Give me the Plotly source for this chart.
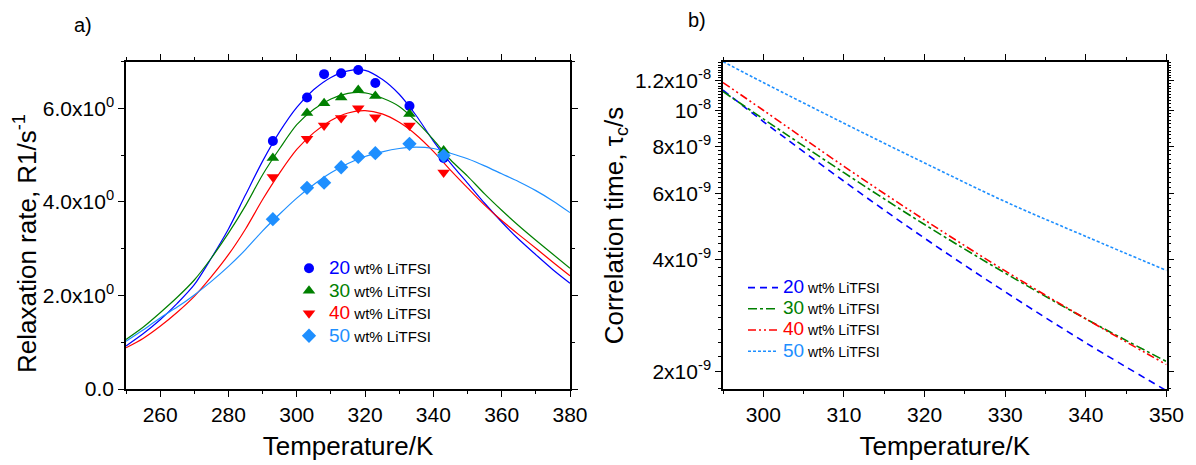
import plotly.graph_objects as go

# ---------------- data: panel a) ----------------
labels = ["20", "30", "40", "50"]
colors = ["#0000ff", "#008000", "#ff0000", "#1e8fff"]
symbols = ["circle", "triangle-up", "triangle-down", "diamond"]

T_meas = [293, 303, 308, 313, 318, 323, 333, 343]
R1_20 = [5.30, 6.23, 6.73, 6.75, 6.82, 6.54, 6.05, 4.94]
R1_30 = [4.94, 5.90, 6.11, 6.23, 6.39, 6.26, 5.88, 5.10]
R1_40 = [4.53, 5.35, 5.63, 5.79, 6.00, 5.81, 5.63, 4.63]
R1_50 = [3.63, 4.30, 4.41, 4.74, 4.96, 5.04, 5.24, 4.99]

T_fit = [250, 255, 260, 265, 270, 275, 280, 285, 290, 295, 300, 305, 310, 315,
         320, 325, 330, 335, 340, 345, 350, 355, 360, 365, 370, 375, 380]
fit_20 = [0.92, 1.18, 1.48, 1.83, 2.23, 2.80, 3.42, 4.15, 4.87, 5.50, 6.02, 6.40, 6.66, 6.80,
          6.81, 6.62, 6.30, 5.84, 5.30, 4.83, 4.40, 3.97, 3.57, 3.20, 2.87, 2.55, 2.26]
fit_30 = [1.06, 1.32, 1.63, 1.96, 2.33, 2.80, 3.33, 3.92, 4.58, 5.14, 5.65, 5.98, 6.20, 6.32,
          6.33, 6.22, 6.04, 5.72, 5.33, 4.90, 4.55, 4.17, 3.82, 3.49, 3.18, 2.88, 2.58]
fit_40 = [0.88, 1.08, 1.34, 1.64, 1.98, 2.40, 2.87, 3.42, 4.05, 4.62, 5.12, 5.48, 5.74, 5.90,
          5.95, 5.88, 5.70, 5.43, 5.08, 4.68, 4.30, 3.93, 3.60, 3.30, 3.01, 2.71, 2.42]
fit_50 = [1.02, 1.26, 1.52, 1.75, 2.01, 2.30, 2.62, 2.98, 3.38, 3.74, 4.08, 4.37, 4.62, 4.82,
          4.97, 5.07, 5.14, 5.17, 5.14, 5.04, 4.92, 4.77, 4.60, 4.43, 4.24, 4.02, 3.77]

# ---------------- data: panel b) ----------------
T_tau = [295, 300, 310, 320, 330, 340, 350]
tau_20 = [1.132e-8, 9.33e-9, 6.46e-9, 4.55e-9, 3.27e-9, 2.39e-9, 1.78e-9]
tau_30 = [1.122e-8, 9.48e-9, 6.81e-9, 4.95e-9, 3.67e-9, 2.77e-9, 2.13e-9]
tau_40 = [1.186e-8, 1.000e-8, 7.08e-9, 5.09e-9, 3.72e-9, 2.77e-9, 2.09e-9]
tau_50 = [1.349e-8, 1.186e-8, 9.23e-9, 7.23e-9, 5.70e-9, 4.60e-9, 3.73e-9]

tau_ticks = [2e-9, 4e-9, 6e-9, 8e-9, 1e-8, 1.2e-8]
tau_ticktext = ["2x10<sup>-9</sup>", "4x10<sup>-9</sup>", "6x10<sup>-9</sup>",
                "8x10<sup>-9</sup>", "10<sup>-8</sup>", "1.2x10<sup>-8</sup>"]
R1_ticks = [0, 2, 4, 6]
R1_ticktext = ["0.0", "2.0x10<sup>0</sup>", "4.0x10<sup>0</sup>", "6.0x10<sup>0</sup>"]

meas = [R1_20, R1_30, R1_40, R1_50]
fits = [fit_20, fit_30, fit_40, fit_50]
taus = [tau_20, tau_30, tau_40, tau_50]
dashes = ["7px,5px", "dashdot", "8px,3px,2px,3px,2px,3px", "3px,2px"]

FONT = "Liberation Sans, Arial, sans-serif"
W, H = 1196, 465


def legend_name(i):
    return f'<span style="color:{colors[i]};font-size:19px">{labels[i]}</span> wt% LiTFSI'


fig = go.Figure()

for i in range(4):
    fig.add_trace(go.Scatter(x=T_fit, y=fits[i], mode="lines",
                             line=dict(color=colors[i], width=1.2, shape="spline", smoothing=0.8),
                             showlegend=False, xaxis="x", yaxis="y", hoverinfo="skip"))
for i in range(4):
    fig.add_trace(go.Scatter(x=T_meas, y=meas[i], mode="markers", name=legend_name(i),
                             marker=dict(symbol=symbols[i], color=colors[i], size=10 if i == 0 else 11),
                             xaxis="x", yaxis="y", legend="legend"))
for i in range(4):
    fig.add_trace(go.Scatter(x=T_tau, y=taus[i], mode="lines", name=legend_name(i),
                             line=dict(color=colors[i], width=1.6, dash=dashes[i], shape="spline"),
                             xaxis="x2", yaxis="y2", legend="legend2"))

axis_common = dict(showline=True, linecolor="black", linewidth=1.5, mirror="ticks",
                   ticks="outside", ticklen=6, tickwidth=1.2, tickcolor="black",
                   showgrid=False, zeroline=False, automargin=False,
                   tickfont=dict(family=FONT, size=21, color="black"))
minor_common = dict(ticklen=3, ticks="outside", tickcolor="black", tickwidth=1)

fig.update_layout(
    template="none",
    width=W, height=H, autosize=False,
    margin=dict(l=0, r=0, t=0, b=0, pad=0),
    paper_bgcolor="white", plot_bgcolor="white",
    font=dict(family=FONT, color="black"),
    xaxis=dict(domain=[126 / W, 570 / W], range=[250, 380], tickvals=[260, 280, 300, 320, 340, 360, 380],
               minor=dict(tickvals=[250, 270, 290, 310, 330, 350, 370], **minor_common),
               title=dict(text="Temperature/K", font=dict(size=26), standoff=12), anchor="y", **axis_common),
    yaxis=dict(domain=[1 - 389 / H, 1 - 61.5 / H], range=[0, 7], tickvals=R1_ticks, ticktext=R1_ticktext,
               minor=dict(tickvals=[1, 3, 5, 7], **minor_common), anchor="x",
               **axis_common),
    xaxis2=dict(domain=[723 / W, 1166.5 / W], range=[295, 350], tickvals=[300, 310, 320, 330, 340, 350],
                minor=dict(tickvals=[295, 305, 315, 325, 335, 345], **minor_common),
                title=dict(text="Temperature/K", font=dict(size=26), standoff=12), anchor="y2", **axis_common),
    yaxis2=dict(domain=[1 - 389 / H, 1 - 62 / H], type="log", range=[-8.745, -7.871], tickvals=tau_ticks,
                ticktext=tau_ticktext,
                minor=dict(tickvals=[k * 2e-10 for k in range(9, 68)], **minor_common),
                title=dict(text="Correlation time, τ<sub>c</sub>/s", font=dict(size=26), standoff=4), anchor="x2",
                **axis_common),
    legend=dict(x=289 / W, y=1 - 252 / H, xanchor="left", yanchor="top", bgcolor="rgba(0,0,0,0)",
                font=dict(family=FONT, size=15, color="black"), tracegroupgap=0, itemwidth=30),
    legend2=dict(x=743 / W, y=1 - 272 / H, xanchor="left", yanchor="top", bgcolor="rgba(0,0,0,0)",
                 font=dict(family=FONT, size=14, color="black"), tracegroupgap=0),
    annotations=[
        dict(text="a)", x=83 / W, y=1 - 25 / H, xref="paper", yref="paper", showarrow=False,
             xanchor="center", yanchor="middle", font=dict(size=20)),
        dict(text="b)", x=697 / W, y=1 - 20 / H, xref="paper", yref="paper", showarrow=False,
             xanchor="center", yanchor="middle", font=dict(size=20)),
        dict(text="Relaxation rate, R1/s<sup>-1</sup>", x=25 / W, y=1 - 244 / H, xref="paper", yref="paper",
             showarrow=False, textangle=-90, xanchor="center", yanchor="middle", font=dict(size=26)),
    ],
)

fig.write_html("out.html")
